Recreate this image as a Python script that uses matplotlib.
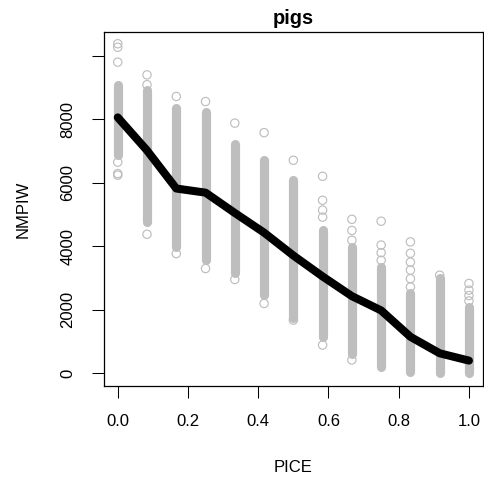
import numpy as np
import matplotlib
matplotlib.use("Agg")
import matplotlib.pyplot as plt

plt.rcParams['font.family'] = ['Liberation Sans', 'DejaVu Sans']

# PICE levels (columns of the scatter)
pice = [0.0, 0.0833, 0.1667, 0.25, 0.3333, 0.4167, 0.5,
        0.5833, 0.6667, 0.75, 0.8333, 0.9167, 1.0]

# mean NMPIW per level (thick black line)
mean_nmpiw = [8060, 7020, 5820, 5690, 5050, 4430, 3710,
              3050, 2430, 1980, 1150, 630, 400]

# range of the dense cloud of points in each column
dense_lo = [6870, 4750, 3980, 3560, 3145, 2460, 1750,
            1150, 600, 210, 50, 20, 20]
dense_hi = [9070, 8910, 8365, 8230, 7230, 6710, 6080,
            4500, 3980, 3350, 2525, 3000, 2100]

# single points standing out from each column
sparse_pts = [
    [10380, 10270, 9800, 6650, 6290, 6240],
    [9400, 9090, 4380],
    [8720, 3770],
    [8560, 3300],
    [7880, 2955],
    [7580, 2200],
    [6710, 1675],
    [6205, 5450, 5140, 4920, 890],
    [4850, 4500, 4190, 420],
    [4790, 4040, 3800, 3560],
    [4140, 3780, 3500, 3250, 2980, 2720],
    [3090],
    [2830, 2620, 2450, 2280],
]

grey = '#bebebe'

fig = plt.figure(figsize=(4.84, 4.79), dpi=100)
ax = fig.add_axes([103.7 / 484, 93 / 479, 379.3 / 484, 354 / 479])

for x, lo, hi, pts in zip(pice, dense_lo, dense_hi, sparse_pts):
    ax.plot([x, x], [lo, hi], color=grey, lw=6.6, solid_capstyle='round', zorder=1)
    ax.scatter([x] * len(pts), pts, s=36, facecolors='none',
               edgecolors=grey, linewidths=0.85, zorder=2)

ax.plot(pice, mean_nmpiw, color='black', lw=5.8, solid_capstyle='round',
        solid_joinstyle='round', zorder=3)

ax.set_xlim(-0.04, 1.04)
ax.set_ylim(-400, 10750)
ax.set_xticks([0.0, 0.2, 0.4, 0.6, 0.8, 1.0])
ax.set_xticklabels(['0.0', '0.2', '0.4', '0.6', '0.8', '1.0'])
ax.set_yticks([0, 2000, 4000, 6000, 8000, 10000])
ax.set_yticklabels(['0', '2000', '4000', '6000', '8000', ''])
ax.tick_params(direction='out', length=8.3, width=0.75, labelsize=12, pad=12)
for lab in ax.get_yticklabels():
    lab.set_rotation(90)
    lab.set_va('center')
for sp in ax.spines.values():
    sp.set_linewidth(0.9)

fig.text(293 / 484, 1 - 18 / 479, 'pigs', ha='center', va='center',
         fontsize=14.4, fontweight='bold')
fig.text(293 / 484, 1 - 467 / 479, 'PICE', ha='center', va='center', fontsize=12)
fig.text(23.5 / 484, 1 - 209 / 479, 'NMPIW', ha='center', va='center',
         fontsize=12, rotation=90)

fig.savefig('out.png', dpi=100)
